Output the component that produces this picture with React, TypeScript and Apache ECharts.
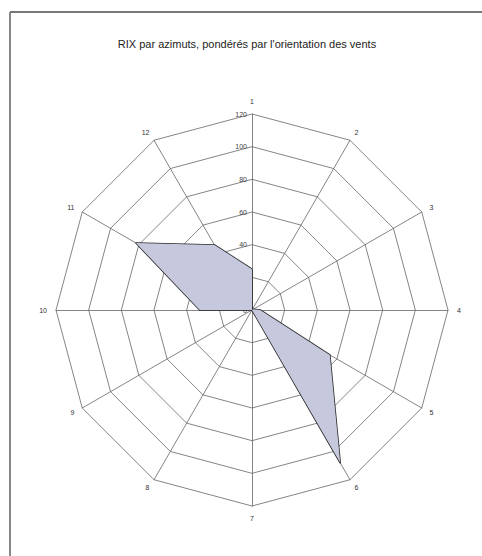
import React, { useEffect, useRef } from "react";
import * as echarts from "echarts";

const titleText = "RIX par azimuts, pondérés par l'orientation des vents";
const categories = ["1", "2", "3", "4", "5", "6", "7", "8", "9", "10", "11", "12"];
const rixValues = [25, 0, 1, 5, 55, 108, 0, 0, 0, 32, 82, 46];
const axisMax = 120;
const tickStep = 20;

export default function App() {
  const ref = useRef<HTMLDivElement>(null);
  useEffect(() => {
    if (!ref.current) return;
    const chart = echarts.init(ref.current, undefined, { renderer: "svg" });
    // ECharts radar goes counter-clockwise; reorder for clockwise layout
    const order = [0, ...categories.map((_, i) => i).slice(1).reverse()];
    const indicator = order.map((i, k) => {
      const ind: any = { name: categories[i], min: 0, max: axisMax };
      if (k === 0) {
        ind.axisLabel = {
          show: true,
          fontSize: 7,
          color: "#444",
          fontFamily: "Liberation Sans",
          margin: 5,
          showMinLabel: true,
        };
      }
      return ind;
    });
    const values = order.map((i) => rixValues[i]);
    chart.setOption({
      animation: false,
      backgroundColor: "#fff",
      title: {
        text: titleText,
        left: 242,
        textAlign: "center",
        top: 33,
        textStyle: {
          fontSize: 11,
          fontWeight: "normal",
          color: "#222",
          fontFamily: "Liberation Sans",
        },
      },
      graphic: [
        { type: "line", shape: { x1: 10, y1: 12, x2: 482, y2: 12 }, style: { stroke: "#777", lineWidth: 2 } },
        { type: "line", shape: { x1: 10, y1: 12, x2: 10, y2: 556 }, style: { stroke: "#888", lineWidth: 2 } },
      ],
      radar: {
        center: [252, 310],
        radius: 196,
        startAngle: 90,
        splitNumber: axisMax / tickStep,
        shape: "polygon",
        nameGap: 9,
        axisName: { color: "#333", fontSize: 7, fontFamily: "Liberation Sans" },
        splitArea: { show: false },
        splitLine: { lineStyle: { color: "#666", width: 0.8 } },
        axisLine: { lineStyle: { color: "#666", width: 0.8 } },
        axisTick: { show: false },
        axisLabel: { show: false },
        indicator,
      },
      series: [
        {
          type: "radar",
          symbol: "none",
          data: [
            {
              value: values,
              lineStyle: { color: "#2a2a2a", width: 1.6 },
              areaStyle: { color: "#c6c9dd", opacity: 1 },
            },
          ],
        },
      ],
    });
    return () => chart.dispose();
  }, []);
  return (
    <div
      ref={ref}
      style={{ position: "absolute", left: 0, top: 0, width: 482, height: 556 }}
    />
  );
}
